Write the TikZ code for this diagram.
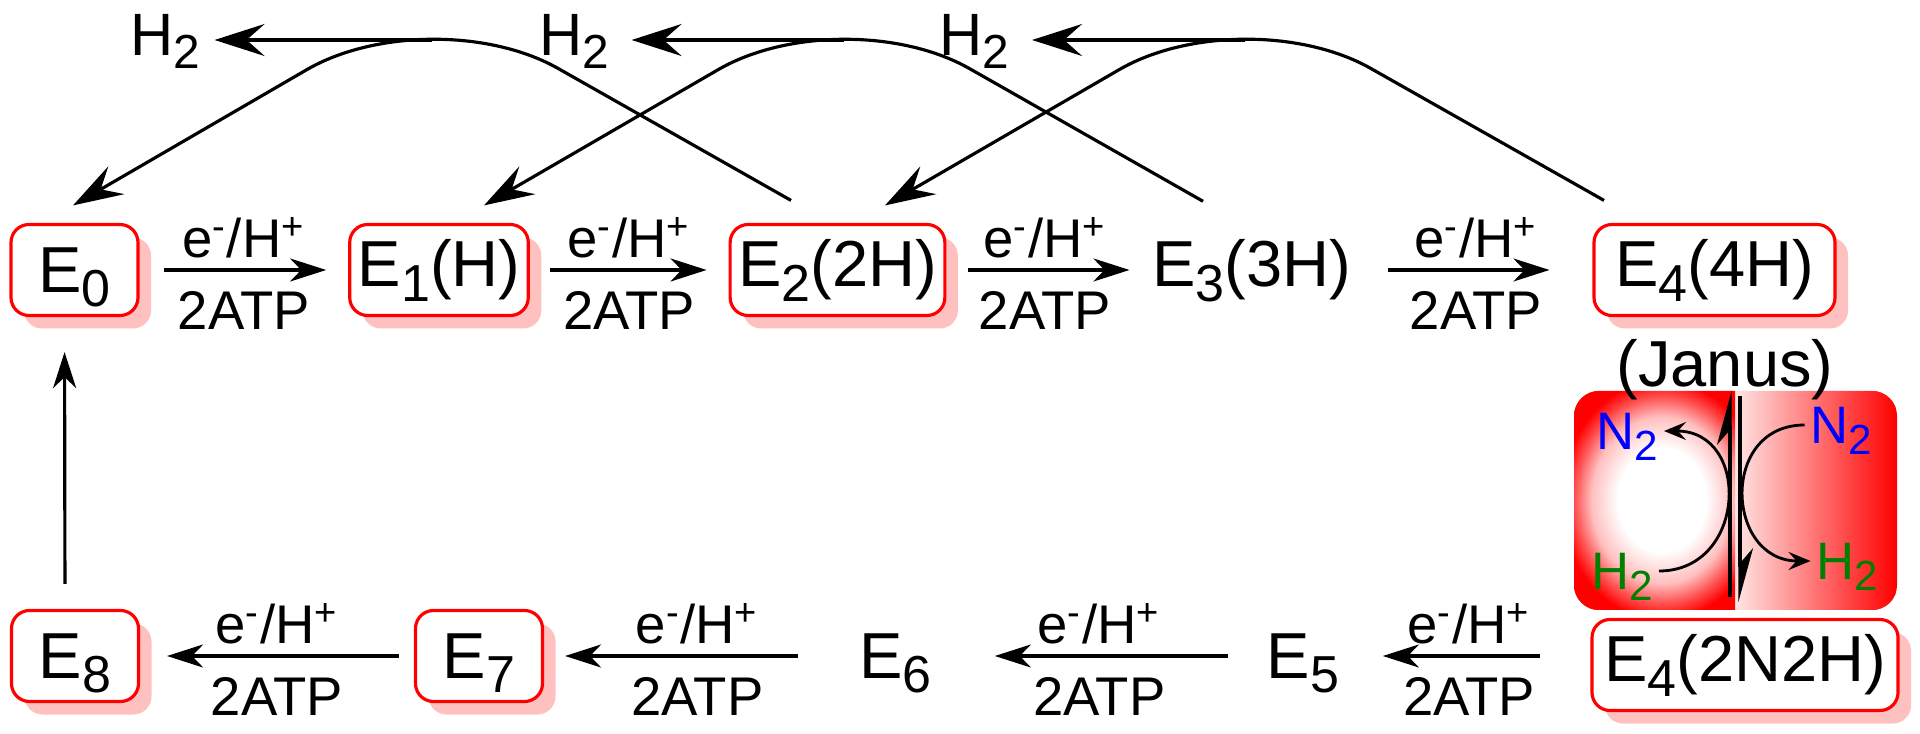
\documentclass[tikz,border=0pt]{standalone}
\usepackage{fontspec}
\usepackage{graphicx}
\setmainfont{Liberation Sans}
\usetikzlibrary{arrows.meta,shadows}

\definecolor{gasblue}{RGB}{0,0,255}
\definecolor{gasgreen}{RGB}{0,128,0}
\definecolor{shadowpink}{RGB}{255,192,192}
\pgfdeclareradialshading{whiteglow}{\pgfpoint{0bp}{0bp}}{color(0bp)=(white); color(10bp)=(white); color(16bp)=(red!25); color(20bp)=(red!70); color(23bp)=(red); color(50bp)=(red)}

% lowered subscript that does not change the line height
\newcommand{\lsub}[1]{\smash{\raisebox{-0.22em}{\scalebox{0.8}{#1}}}}

\begin{document}
\begin{tikzpicture}
[
font=\fontsize{18.5}{22}\selectfont,
state/.style={draw=red,line width=0.9pt,rounded corners=1.8mm,fill=white,
  inner xsep=0.8mm,inner ysep=0mm,minimum height=0.91cm,minimum width=1.27cm,
  drop shadow={shadow xshift=1.3mm,shadow yshift=-1.3mm,fill=shadowpink,opacity=1}},
freestate/.style={inner xsep=0.8mm,inner ysep=0mm,minimum height=0.91cm},
rxn/.style={-{Stealth[length=3.6mm,width=2.3mm,inset=1.1mm]},line width=0.9pt},
abovelab/.style={above,inner sep=1mm,font=\fontsize{15.5}{18}\selectfont},
belowlab/.style={below,inner sep=2mm,font=\fontsize{15.5}{18}\selectfont},
loss/.style={-{Stealth[length=5mm,width=3.2mm,inset=1.8mm]},line width=0.9pt,rounded corners=14.5mm},
gas/.style={inner sep=0.5mm,font=\fontsize{17}{20}\selectfont},
ligand/.style={inner sep=0.5mm,font=\fontsize{15}{18}\selectfont},
bindarrow/.style={-{Stealth[length=2.2mm,width=1.8mm,inset=0.8mm]},line width=0.8pt},
eqline/.style={line width=0.9pt},
]
\useasboundingbox (0,0) rectangle (19.2,-7.34);

%Janus box
\begin{scope}
\clip[rounded corners=2.5mm] (15.74,-3.91) rectangle (18.97,-6.10);
\fill[red] (15.74,-3.91) rectangle (18.97,-6.10);
\shade[left color=red!10,right color=red] (17.35,-3.91) rectangle (18.97,-6.10);
\clip (15.74,-3.91) rectangle (17.35,-6.10);
\shade[shading=whiteglow] (15.52,-3.70) rectangle (17.72,-6.30);
\end{scope}

%Place the states
\node[state] (e0) at (0.745,-2.70) {E\lsub{0}};
\node[state] (e1) at (4.39,-2.70) {E\lsub{1}(H)};
\node[state] (e2) at (8.375,-2.70) {E\lsub{2}(2H)};
\node[freestate] (e3) at (12.515,-2.70) {E\lsub{3}(3H)};
\node[state,minimum width=2.41cm] (e4) at (17.145,-2.70) {E\lsub{4}(4H)};
\node (janus) at (17.25,-3.70) {(Janus)};
\node[state,minimum width=3.06cm] (e4n) at (17.45,-6.65) {E\lsub{4}(2N2H)};
\node[freestate] (e5) at (13.03,-6.56) {E\lsub{5}};
\node[freestate] (e6) at (8.955,-6.56) {E\lsub{6}};
\node[state] (e7) at (4.79,-6.56) {E\lsub{7}};
\node[state] (e8) at (0.75,-6.56) {E\lsub{8}};

%Released H2
\node[gas] (h2a) at (1.65,-0.35) {H\lsub{2}};
\node[gas] (h2b) at (5.74,-0.35) {H\lsub{2}};
\node[gas] (h2c) at (9.745,-0.35) {H\lsub{2}};

%Exchange in the Janus box
\node[ligand,text=gasblue] (n2l) at (16.275,-4.31) {N\lsub{2}};
\node[ligand,text=gasblue] (n2r) at (18.41,-4.25) {N\lsub{2}};
\node[ligand,text=gasgreen] (h2l) at (16.225,-5.71) {H\lsub{2}};
\node[ligand,text=gasgreen] (h2r) at (18.47,-5.61) {H\lsub{2}};

%Draw the reduction steps
\draw[rxn,shorten <=2.4mm,shorten >=2.2mm] (e0) -- (e1)
  node[midway,abovelab]{e\textsuperscript{-}/H\textsuperscript{+}} node[midway,belowlab]{2ATP};
\draw[rxn,shorten <=2mm,shorten >=2.2mm] (e1) -- (e2)
  node[midway,abovelab]{e\textsuperscript{-}/H\textsuperscript{+}} node[midway,belowlab]{2ATP};
\draw[rxn,shorten <=2.2mm,shorten >=1.4mm] (e2) -- (e3)
  node[midway,abovelab]{e\textsuperscript{-}/H\textsuperscript{+}} node[midway,belowlab]{2ATP};
\draw[rxn,shorten <=2.8mm,shorten >=4.3mm] (e3) -- (e4)
  node[midway,abovelab]{e\textsuperscript{-}/H\textsuperscript{+}} node[midway,belowlab]{2ATP};
\draw[rxn,shorten <=5mm,shorten >=3.5mm] (e4n.west |- e5.east) -- (e5.east)
  node[midway,abovelab]{e\textsuperscript{-}/H\textsuperscript{+}} node[midway,belowlab]{2ATP};
\draw[rxn,shorten <=3mm,shorten >=5.45mm] (e5) -- (e6)
  node[midway,abovelab]{e\textsuperscript{-}/H\textsuperscript{+}} node[midway,belowlab]{2ATP};
\draw[rxn,shorten <=5.25mm,shorten >=2.1mm] (e6) -- (e7)
  node[midway,abovelab]{e\textsuperscript{-}/H\textsuperscript{+}} node[midway,belowlab]{2ATP};
\draw[rxn,shorten <=1.5mm,shorten >=2.7mm] (e7) -- (e8)
  node[midway,abovelab]{e\textsuperscript{-}/H\textsuperscript{+}} node[midway,belowlab]{2ATP};
\draw[rxn,shorten <=2.5mm,shorten >=3.5mm] ([xshift=-1mm]e8.north) -- ([xshift=-1mm]e0.south);

%H2 loss arcs
\coordinate (peak1) at (4.32,0.03);
\coordinate (peak2) at (8.435,0.03);
\coordinate (peak3) at (12.445,0.03);
\draw[loss] ([xshift=-4.65mm,yshift=2.25mm]e2.north) -- (peak1) -- ([xshift=-0.15mm,yshift=1.75mm]e0.north);
\draw[loss] ([xshift=-4.85mm,yshift=2.25mm]e3.north) -- (peak2) -- ([xshift=4.5mm,yshift=1.75mm]e1.north);
\draw[loss] ([xshift=-11.05mm,yshift=2.25mm]e4.north) -- (peak3) -- ([xshift=4.75mm,yshift=1.75mm]e2.north);
\coordinate (top1) at (4.32,-0.40);
\coordinate (top2) at (8.435,-0.40);
\coordinate (top3) at (12.445,-0.40);
\draw[loss,shorten >=0.9mm] (top1) -- (top1 -| h2a.east);
\draw[loss,shorten >=1.7mm] (top2) -- (top2 -| h2b.east);
\draw[loss,shorten >=1.7mm] (top3) -- (top3 -| h2c.east);

%Janus exchange
\coordinate (eqLa) at (17.30,-5.97);
\coordinate (eqLb) at (17.30,-3.91);
\coordinate (eqRa) at (17.40,-3.96);
\coordinate (eqRb) at (17.40,-6.02);
\draw[eqline,-{Stealth[harpoon,length=4.8mm,width=2.6mm,inset=1.5mm]}] (eqLa) -- (eqLb);
\draw[eqline,-{Stealth[harpoon,length=4.8mm,width=2.6mm,inset=1.5mm]}] (eqRa) -- (eqRb);
\draw[bindarrow] (h2l.east) to[out=0,in=0,looseness=1.6] (n2l.east);
\draw[bindarrow] (n2r.west) to[out=180,in=180,looseness=1.6] (h2r.west);
\end{tikzpicture}
\end{document}
